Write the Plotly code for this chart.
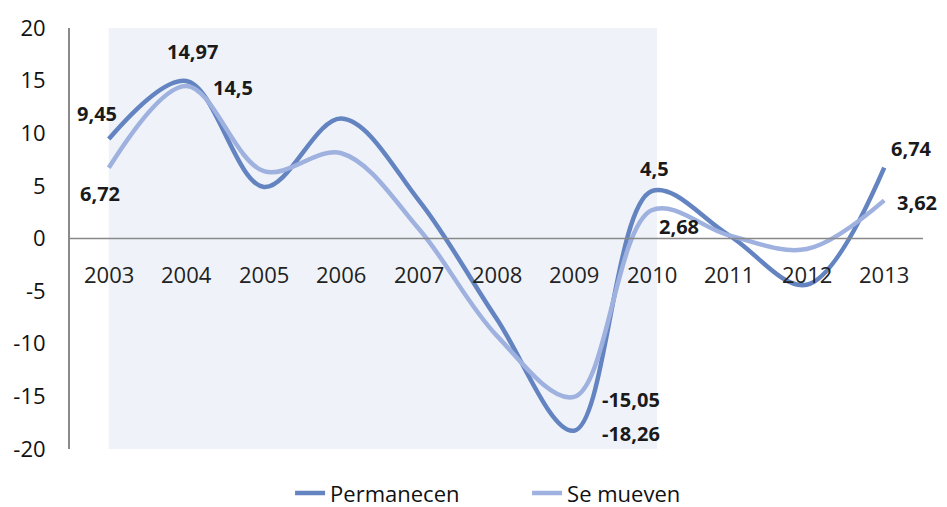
import plotly.graph_objects as go

# Data
years = [2003, 2004, 2005, 2006, 2007, 2008, 2009, 2010, 2011, 2012, 2013]
permanecen = [9.45, 14.97, 4.9, 11.4, 3.6, -7.6, -18.26, 4.5, 0.3, -4.4, 6.74]
se_mueven = [6.72, 14.5, 6.4, 8.1, 0.9, -9.2, -15.05, 2.68, 0.3, -1.0, 3.62]
y_ticks = [20, 15, 10, 5, 0, -5, -10, -15, -20]

# Which points get a value label (series, year index) and where the label sits
label_points = [
    ("p", 0, -12, 26), ("s", 0, -9, -26),
    ("p", 1, 6, 29), ("s", 1, 47, -2),
    ("s", 6, 57, -3), ("p", 6, 57, -3),
    ("p", 7, 3, 23), ("s", 7, 27, -16),
    ("p", 10, 27, 19), ("s", 10, 33, -2),
]

dark_blue = "#6383c1"
light_blue = "#9eb1df"
font_family = "'Open Sans', 'Noto Sans', sans-serif"


def fmt(v):
    return f"{v:g}".replace(".", ",")


fig = go.Figure()

# shaded band behind 2003-2010
fig.add_shape(type="rect", xref="x", yref="y", x0=years[0], x1=years[7] + 0.07,
              y0=-20.4, y1=20.6, fillcolor="#eff3f9", line=dict(width=0), layer="below")

# zero line
fig.add_shape(type="line", xref="paper", yref="y", x0=0, x1=1, y0=0, y1=0,
              line=dict(color="#888888", width=1.5))

fig.add_trace(go.Scatter(
    x=years, y=permanecen, mode="lines", name="Permanecen",
    line=dict(color=dark_blue, width=4.5, shape="spline", smoothing=1.0)
))
fig.add_trace(go.Scatter(
    x=years, y=se_mueven, mode="lines", name="Se mueven",
    line=dict(color=light_blue, width=4.5, shape="spline", smoothing=1.0)
))

# year labels sitting just under the zero line
for yr in years:
    fig.add_annotation(x=yr, y=0, text=str(yr), showarrow=False, yanchor="middle",
                       yshift=-35, font=dict(size=22, color="#222222", family=font_family))

# value labels
for series, i, dx, dy in label_points:
    vals = permanecen if series == "p" else se_mueven
    fig.add_annotation(x=years[i], y=vals[i], text=f"<b>{fmt(vals[i])}</b>", showarrow=False,
                       xshift=dx, yshift=dy,
                       font=dict(size=20, color="#1a1a1a", family=font_family))

# the page adds an 8px body margin, so margins are trimmed by 8px on the top/left
fig.update_layout(
    width=947, height=507,
    margin=dict(l=62, r=32, t=20, b=66, autoexpand=False),
    paper_bgcolor="white", plot_bgcolor="white",
    font=dict(family=font_family, size=21, color="#111111"),
    showlegend=True,
    legend=dict(orientation="h", x=0.258, xanchor="left", y=-0.105, yanchor="middle",
                font=dict(size=22, color="#111111"),
                entrywidth=192, entrywidthmode="pixels"),
    xaxis=dict(range=[2002.5, 2013.5], showgrid=False, zeroline=False,
               showticklabels=False, showline=False),
    yaxis=dict(range=[-20, 20], tickvals=y_ticks, ticktext=[str(t) for t in y_ticks],
               showgrid=False, zeroline=False,
               showline=True, linecolor="#8a8a8a", linewidth=2,
               ticklabelstandoff=18, tickfont=dict(size=22, color="#111111")),
)

fig.write_html("out.html")
